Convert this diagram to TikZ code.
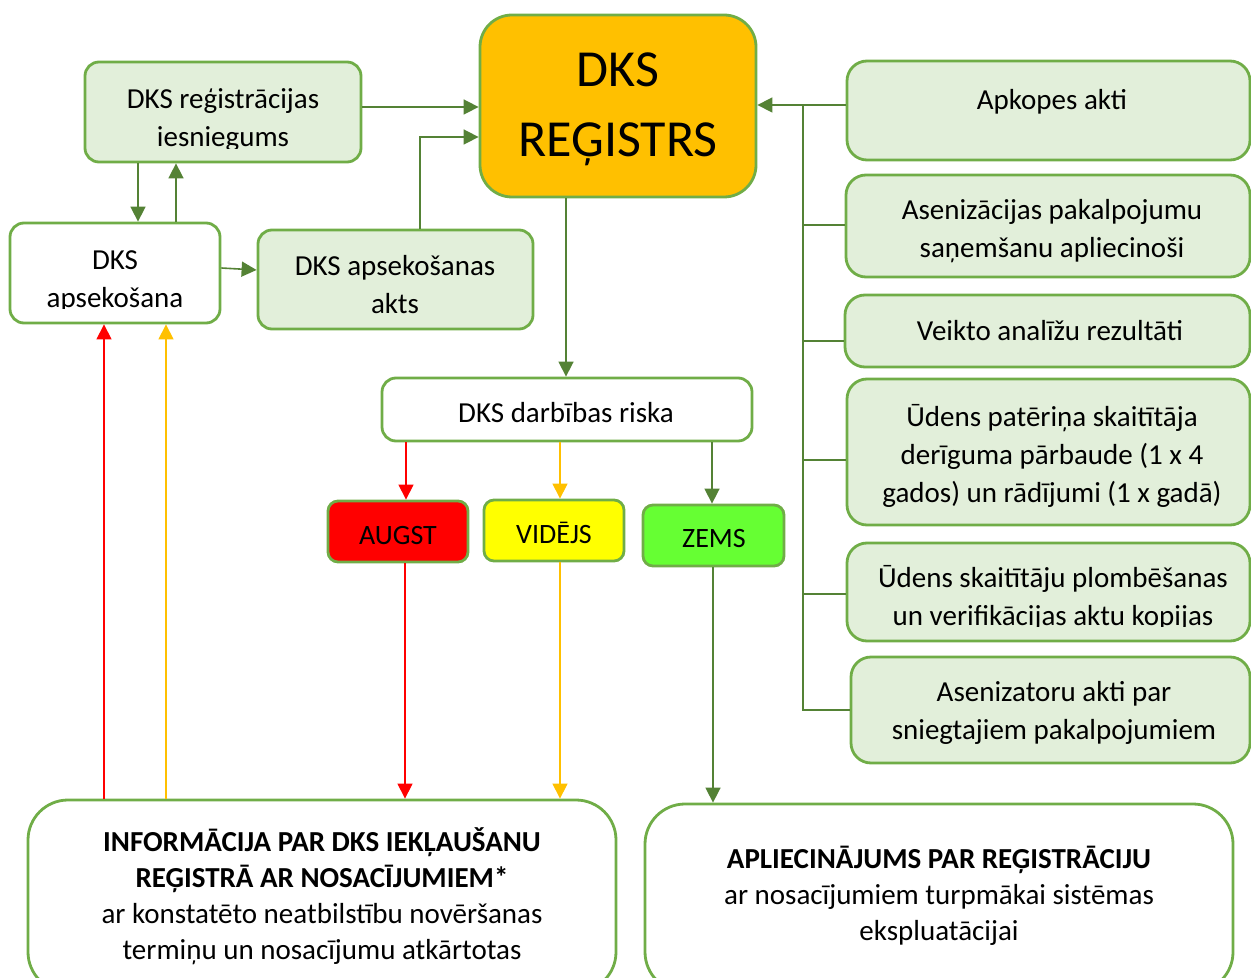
\documentclass[tikz,border=0pt]{standalone}
\usepackage{fontspec}
\setmainfont{Carlito}
\usetikzlibrary{arrows.meta,fit}
\definecolor{boxline}{HTML}{70AD47}
\definecolor{boxfill}{HTML}{E2EFDA}
\definecolor{arrowgreen}{HTML}{548235}
\definecolor{regorange}{HTML}{FFC000}
\definecolor{lowgreen}{HTML}{66FF33}
\definecolor{midyellow}{HTML}{FFFF00}
\tikzset{
  box/.style={draw=boxline, line width=1.4pt, rounded corners=7pt, inner sep=0pt},
  greenbox/.style={box, fill=boxfill},
  whitebox/.style={box, fill=white},
  sidebox/.style={greenbox, rounded corners=10pt},
  bigbox/.style={box, fill=white, rounded corners=20pt},
  riskbox/.style={box, rounded corners=5pt},
  txt/.style={align=center, inner sep=0pt, font=\fontsize{14.5}{19}\selectfont},
  bottomtxt/.style={align=center, inner sep=0pt, font=\fontsize{14.5}{18}\selectfont},
  tip/.style={-{Triangle[length=7.5pt,width=7.5pt]}},
  link/.style={draw=arrowgreen, line width=0.8pt},
  arr/.style={link, tip},
  redarr/.style={draw=red, line width=0.6pt, tip},
  orangearr/.style={draw=regorange, line width=0.6pt, tip},
}
\begin{document}
\begin{tikzpicture}[x=0.5pt, y=-0.5pt]
\useasboundingbox (0,0) rectangle (1251,978);
\clip (0,0) rectangle (1251,978);

% central register
\node[box, fill=regorange, rounded corners=16pt, fit={(480,15) (756,197)}] (regis) {};
\node[align=center, inner sep=0pt, font=\fontsize{26}{35}\selectfont] (regisT) at (618,109) {DKS\\REĢISTRS};

% left group
\node[greenbox, fit={(85,62) (361,162)}] (reg) {};
\begin{scope}
  \clip (85,62) rectangle (361,148.5);
  \node[txt] (regT) at (223,120) {DKS reģistrācijas\\iesniegums};
\end{scope}
\node[whitebox, fit={(10,223) (220,323)}] (aps) {};
\begin{scope}
  \clip (10,223) rectangle (220,308.5);
  \node[txt] (apsT) at (115,281) {DKS\\apsekošana};
\end{scope}
\node[greenbox, fit={(258,230) (533,329)}] (akts) {};
\node[txt] (aktsT) at (395,285) {DKS apsekošanas\\akts};

% risk level
\node[whitebox, fit={(382,378) (752,441)}] (risk) {};
\node[txt] (riskT) at (566,413) {DKS darbības riska};
\node[riskbox, fill=red, fit={(328,501) (468,562)}] (augst) {};
\node[txt, font=\fontsize{14}{17}\selectfont] (augstT) at (398,536) {AUGST};
\node[riskbox, fill=midyellow, fit={(484,500) (624,561)}] (vid) {};
\node[txt, font=\fontsize{14}{17}\selectfont] (vidT) at (554,533) {VIDĒJS};
\node[riskbox, fill=lowgreen, fit={(643,505) (784,566)}] (zems) {};
\node[txt, font=\fontsize{14}{17}\selectfont] (zemsT) at (714,539) {ZEMS};

% right column of documents
\node[sidebox, fit={(847,61) (1250,160)}] (apk) {};
\node[txt] (apkT) at (1052,102) {Apkopes akti};
\node[sidebox, fit={(846,175) (1250,277)}] (asen) {};
\node[txt] (asenT) at (1052,231) {Asenizācijas pakalpojumu\\saņemšanu apliecinoši};
\node[sidebox, fit={(845,295) (1250,367)}] (anal) {};
\node[txt] (analT) at (1050,331) {Veikto analīžu rezultāti};
\node[sidebox, fit={(847,379) (1250,525)}] (pat) {};
\node[txt] (patT) at (1052,456) {Ūdens patēriņa skaitītāja\\derīguma pārbaude (1 x 4\\gados) un rādījumi (1 x gadā)};
\node[sidebox, fit={(847,543) (1250,641)}] (plomb) {};
\begin{scope}
  \clip (847,543) rectangle (1250,626.5);
  \node[txt] (plombT) at (1053,598) {Ūdens skaitītāju plombēšanas\\un verifikācijas aktu kopijas};
\end{scope}
\node[sidebox, fit={(851,657) (1250,763)}] (asz) {};
\node[txt] (aszT) at (1054,713) {Asenizatoru akti par\\sniegtajiem pakalpojumiem};

% outcomes
\node[bigbox, fit={(28,800) (616,992)}] (info) {};
\node[bottomtxt] (infoT) at (322,896) {\textbf{INFORMĀCIJA PAR DKS IEKĻAUŠANU}\\\textbf{REĢISTRĀ AR NOSACĪJUMIEM*}\\ar konstatēto neatbilstību novēršanas\\termiņu un nosacījumu atkārtotas};
\node[bigbox, fit={(645,804) (1233,992)}] (apl) {};
\node[bottomtxt] (aplT) at (939,896) {\textbf{APLIECINĀJUMS PAR REĢISTRĀCIJU}\\ar nosacījumiem turpmākai sistēmas\\ekspluatācijai};

% connectors on the left
\draw[arr] (reg.east |- 0,107) -- (regis.west |- 0,107);
\draw[arr] (akts.north -| 420,0) |- (regis.west |- 0,137);
\draw[arr] (reg.south -| 138,0) -- (aps.north -| 138,0);
\draw[arr] (aps.north -| 176,0) -- (reg.south -| 176,0);
\draw[arr] (aps.east |- 0,268) -- (akts.west |- 0,270);

% register to risk assessment
\draw[arr] (regis.south -| 566,0) -- (risk.north -| 566,0);

% collecting line from the document column
\coordinate (bus) at (803,105);
\draw[arr] (apk.west |- bus) -- (regis.east |- bus);
\draw[link] (asen.west |- 0,225) -| (bus);
\draw[link] (anal.west |- 0,341) -| (bus);
\draw[link] (pat.west |- 0,460) -| (bus);
\draw[link] (plomb.west |- 0,594) -| (bus);
\draw[link] (asz.west |- 0,710) -| (bus);

% risk levels
\draw[redarr] (risk.south -| 406,0) -- (augst.north -| 406,0);
\draw[orangearr] (risk.south -| 560,0) -- (vid.north -| 560,0);
\draw[arr] (risk.south -| 712,0) -- (zems.north -| 712,0);

% risk levels to outcomes
\draw[redarr] (augst.south -| 405,0) -- (info.north -| 405,0);
\draw[orangearr] (vid.south -| 560,0) -- (info.north -| 560,0);
\draw[arr] (zems.south -| 713,0) -- (apl.north -| 713,0);

% back to inspection
\draw[redarr] (info.north -| 104,0) -- (aps.south -| 104,0);
\draw[orangearr] (info.north -| 166,0) -- (aps.south -| 166,0);
\end{tikzpicture}
\end{document}
